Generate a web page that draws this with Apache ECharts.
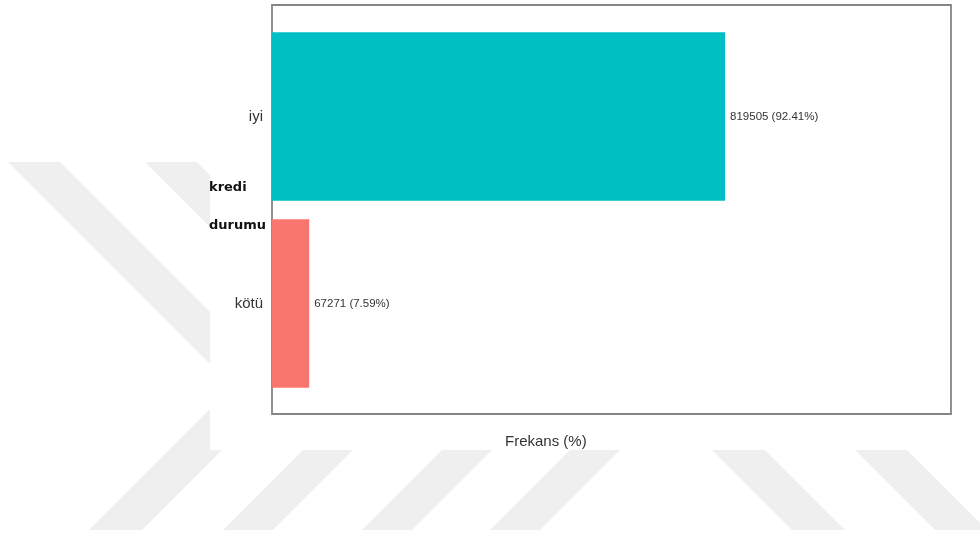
<!DOCTYPE html>
<html>
<head>
<meta charset="utf-8">
<style>
  html, body { margin: 0; padding: 0; background: #fff; }
  #chart { width: 980px; height: 536px; }
</style>
<script src="https://cdn.jsdelivr.net/npm/echarts@6/dist/echarts.min.js"></script>
</head>
<body>
<div id="chart"></div>
<script>
// data
const categories = ['iyi', 'kötü'];
const counts = [819505, 67271];
const percents = [92.41, 7.59];
const barColors = ['#00BFC4', '#F8766D'];
const xMax = 138.5;

// faint background watermark stripes (page decoration, not chart data)
const stripeColor = '#efefef';
const watermark = [
  [[8, 162], [60, 162], [348, 450], [296, 450]],
  [[145, 162], [197, 162], [485, 450], [433, 450]],
  [[89, 530], [142, 530], [292, 380], [239, 380]],
  [[223, 530], [273, 530], [423, 380], [373, 380]],
  [[362, 530], [412, 530], [562, 380], [512, 380]],
  [[490, 530], [540, 530], [690, 380], [640, 380]],
  [[642, 380], [695, 380], [845, 530], [792, 530]],
  [[785, 380], [837, 380], [987, 530], [935, 530]]
];

const chart = echarts.init(document.getElementById('chart'), null, { renderer: 'canvas' });

const option = {
  backgroundColor: '#ffffff',
  animation: false,
  graphic: [
    ...watermark.map(pts => ({
      type: 'polygon',
      z: -20,
      silent: true,
      shape: { points: pts },
      style: { fill: stripeColor }
    })),
    {
      type: 'rect',
      z: -10,
      silent: true,
      shape: { x: 210, y: 0, width: 770, height: 450 },
      style: { fill: '#ffffff' }
    }
  ],
  title: [
    {
      // x axis title
      text: 'Frekans (%)',
      left: 500,
      top: 429,
      textStyle: {
        fontFamily: 'Liberation Sans',
        fontSize: 15,
        fontWeight: 'normal',
        color: '#333'
      }
    },
    {
      // y axis title
      text: 'kredi\ndurumu',
      left: 204,
      top: 164,
      textStyle: {
        fontFamily: 'DejaVu Sans',
        fontSize: 13,
        fontWeight: 'bold',
        color: '#111',
        lineHeight: 38
      }
    }
  ],
  grid: [
    {
      left: 272, top: 5, right: 29, bottom: 122,
      show: true,
      borderColor: '#858585',
      borderWidth: 1.8,
      backgroundColor: 'transparent'
    },
    {
      left: 272, top: 23, right: 29, bottom: 139
    }
  ],
  xAxis: [
    { gridIndex: 0, type: 'value', min: 0, max: xMax, show: false },
    { gridIndex: 1, type: 'value', min: 0, max: xMax, show: false }
  ],
  yAxis: [
    { gridIndex: 0, type: 'value', min: 0, max: 1, show: false },
    {
      gridIndex: 1,
      type: 'category',
      inverse: true,
      data: categories,
      axisLine: { show: false },
      axisTick: { show: false },
      splitLine: { show: false },
      axisLabel: {
        margin: 9,
        fontFamily: 'Liberation Sans',
        fontSize: 15,
        color: '#333'
      }
    }
  ],
  series: [
    {
      type: 'bar',
      xAxisIndex: 1,
      yAxisIndex: 1,
      barWidth: '90%',
      data: percents.map((p, i) => ({
        value: p,
        itemStyle: { color: barColors[i] }
      })),
      label: {
        show: true,
        position: 'right',
        distance: 5,
        fontFamily: 'Liberation Sans',
        fontSize: 11.5,
        color: '#333',
        formatter: p => `${counts[p.dataIndex]} (${percents[p.dataIndex].toFixed(2)}%)`
      }
    }
  ]
};

chart.setOption(option);
</script>
</body>
</html>
